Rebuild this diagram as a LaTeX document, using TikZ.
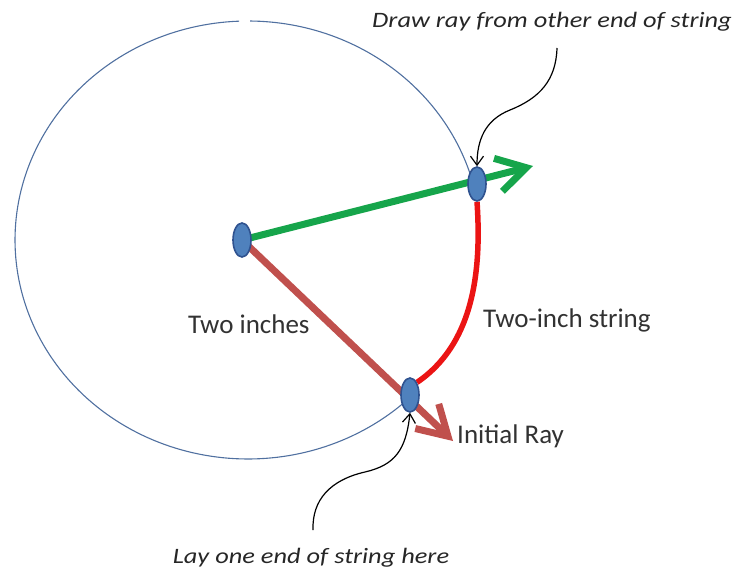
\documentclass[tikz,border=0pt]{standalone}
\usepackage{fontspec}
\setmainfont{Carlito}
\usetikzlibrary{arrows.meta,shapes.geometric}
\definecolor{dotfill}{RGB}{79,129,189}
\definecolor{dotline}{RGB}{47,82,143}
\definecolor{circline}{RGB}{80,112,160}
\definecolor{raygreen}{RGB}{22,165,75}
\definecolor{rayred}{RGB}{192,80,77}
\definecolor{arcred}{RGB}{235,20,20}
\definecolor{txt}{RGB}{50,50,50}
\pgfdeclarelayer{bg}
\pgfsetlayers{bg,main}
\begin{document}
\begin{tikzpicture}[x=1pt,y=-1pt,
  dot/.style={ellipse,draw=dotline,line width=1.6pt,fill=dotfill,minimum width=18pt,minimum height=34pt,inner sep=0pt},
  circ/.style={draw=circline,line width=1.1pt},
  ray/.style={line width=7pt,-{Straight Barb[length=29pt,width=34pt]}},
  callout/.style={draw=black,line width=1.2pt,-{Straight Barb[length=9pt,width=13pt]}},
  lbl/.style={inner sep=0pt,text=txt,font=\fontsize{27}{32}\selectfont},
  ital/.style={inner sep=0pt,text=black!85,font=\fontsize{22}{26}\selectfont\itshape}
]
\useasboundingbox (0,0) rectangle (738,569);
% dots
\node[dot] (c) at (242,240) {};
\node[dot] (g) at (477,184) {};
\node[dot] (b) at (410,395) {};
\coordinate (gt) at (533,166);
\coordinate (rt) at (453,441);
% texts
\node[ital,anchor=base] (tt) at (552,28) {\scalebox{1.2}[1]{Draw ray from other end of string}};
\node[ital,anchor=base] (bt) at (311,563) {\scalebox{1.2}[1]{Lay one end of string here}};
\node[lbl,anchor=base west] (ti) at (188,333) {Two inches};
\node[lbl,anchor=base west] (ts) at (483,327) {Two-inch string};
\node[lbl,anchor=base west] (ir) at (457,443) {Initial Ray};
\coordinate (tstart) at (557,48);
\coordinate (bstart) at (313,530);
\begin{pgfonlayer}{bg}
% circle with a small gap at top
\draw[circ] plot[domain=45.5:267.8,samples=150] ({248+233*cos(\x)},{240+219*sin(\x)});
\draw[circ] plot[domain=270.5:345.4,samples=60] ({248+233*cos(\x)},{240+219*sin(\x)});
% red string arc
\draw[arcred,line width=5.5pt] (g.south) .. controls (482,275) and (472,345) .. (b.north east);
% rays
\draw[ray,draw=raygreen] (c.center) -- (gt);
\draw[ray,draw=rayred] (c.center) -- (rt);
\end{pgfonlayer}
% callouts
\draw[callout] (tstart) .. controls (556,80) and (540,98) .. (510,110) .. controls (485,120) and (477,140) .. (g.north);
\draw[callout] (bstart) .. controls (312,500) and (330,480) .. (365,472) .. controls (395,465) and (406,450) .. (b.south);
\end{tikzpicture}
\end{document}
